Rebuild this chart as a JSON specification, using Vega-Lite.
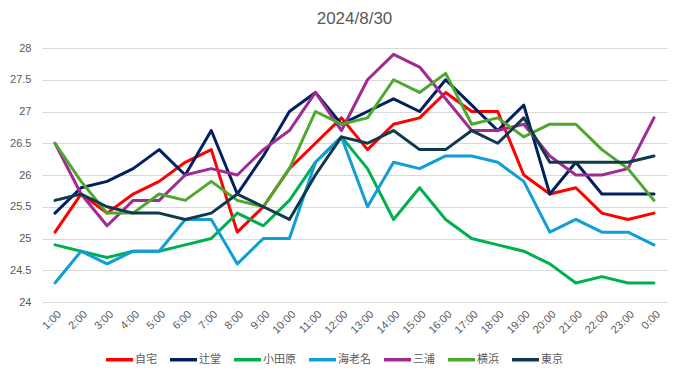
{
  "$schema": "https://vega.github.io/schema/vega-lite/v6.json",
  "width": 625,
  "height": 254,
  "autosize": {"type": "none"},
  "padding": {"left": 42, "top": 48, "right": 14, "bottom": 76},
  "background": "#ffffff",
  "title": {"text": "2024/8/30", "fontSize": 17, "fontWeight": "normal", "color": "#595959", "font": "Liberation Sans", "anchor": "middle", "offset": 14},
  "datasets": {
    "temps": [
      {"t":"1:00","s":"自宅","v":25.1},{"t":"2:00","s":"自宅","v":25.7},{"t":"3:00","s":"自宅","v":25.4},{"t":"4:00","s":"自宅","v":25.7},{"t":"5:00","s":"自宅","v":25.9},{"t":"6:00","s":"自宅","v":26.2},{"t":"7:00","s":"自宅","v":26.4},{"t":"8:00","s":"自宅","v":25.1},{"t":"9:00","s":"自宅","v":25.5},{"t":"10:00","s":"自宅","v":26.1},{"t":"11:00","s":"自宅","v":26.5},{"t":"12:00","s":"自宅","v":26.9},{"t":"13:00","s":"自宅","v":26.4},{"t":"14:00","s":"自宅","v":26.8},{"t":"15:00","s":"自宅","v":26.9},{"t":"16:00","s":"自宅","v":27.3},{"t":"17:00","s":"自宅","v":27.0},{"t":"18:00","s":"自宅","v":27.0},{"t":"19:00","s":"自宅","v":26.0},{"t":"20:00","s":"自宅","v":25.7},{"t":"21:00","s":"自宅","v":25.8},{"t":"22:00","s":"自宅","v":25.4},{"t":"23:00","s":"自宅","v":25.3},{"t":"0:00","s":"自宅","v":25.4},
      {"t":"1:00","s":"辻堂","v":25.4},{"t":"2:00","s":"辻堂","v":25.8},{"t":"3:00","s":"辻堂","v":25.9},{"t":"4:00","s":"辻堂","v":26.1},{"t":"5:00","s":"辻堂","v":26.4},{"t":"6:00","s":"辻堂","v":26.0},{"t":"7:00","s":"辻堂","v":26.7},{"t":"8:00","s":"辻堂","v":25.7},{"t":"9:00","s":"辻堂","v":26.3},{"t":"10:00","s":"辻堂","v":27.0},{"t":"11:00","s":"辻堂","v":27.3},{"t":"12:00","s":"辻堂","v":26.8},{"t":"13:00","s":"辻堂","v":27.0},{"t":"14:00","s":"辻堂","v":27.2},{"t":"15:00","s":"辻堂","v":27.0},{"t":"16:00","s":"辻堂","v":27.5},{"t":"17:00","s":"辻堂","v":27.1},{"t":"18:00","s":"辻堂","v":26.7},{"t":"19:00","s":"辻堂","v":27.1},{"t":"20:00","s":"辻堂","v":25.7},{"t":"21:00","s":"辻堂","v":26.2},{"t":"22:00","s":"辻堂","v":25.7},{"t":"23:00","s":"辻堂","v":25.7},{"t":"0:00","s":"辻堂","v":25.7},
      {"t":"1:00","s":"小田原","v":24.9},{"t":"2:00","s":"小田原","v":24.8},{"t":"3:00","s":"小田原","v":24.7},{"t":"4:00","s":"小田原","v":24.8},{"t":"5:00","s":"小田原","v":24.8},{"t":"6:00","s":"小田原","v":24.9},{"t":"7:00","s":"小田原","v":25.0},{"t":"8:00","s":"小田原","v":25.4},{"t":"9:00","s":"小田原","v":25.2},{"t":"10:00","s":"小田原","v":25.6},{"t":"11:00","s":"小田原","v":26.2},{"t":"12:00","s":"小田原","v":26.6},{"t":"13:00","s":"小田原","v":26.1},{"t":"14:00","s":"小田原","v":25.3},{"t":"15:00","s":"小田原","v":25.8},{"t":"16:00","s":"小田原","v":25.3},{"t":"17:00","s":"小田原","v":25.0},{"t":"18:00","s":"小田原","v":24.9},{"t":"19:00","s":"小田原","v":24.8},{"t":"20:00","s":"小田原","v":24.6},{"t":"21:00","s":"小田原","v":24.3},{"t":"22:00","s":"小田原","v":24.4},{"t":"23:00","s":"小田原","v":24.3},{"t":"0:00","s":"小田原","v":24.3},
      {"t":"1:00","s":"海老名","v":24.3},{"t":"2:00","s":"海老名","v":24.8},{"t":"3:00","s":"海老名","v":24.6},{"t":"4:00","s":"海老名","v":24.8},{"t":"5:00","s":"海老名","v":24.8},{"t":"6:00","s":"海老名","v":25.3},{"t":"7:00","s":"海老名","v":25.3},{"t":"8:00","s":"海老名","v":24.6},{"t":"9:00","s":"海老名","v":25.0},{"t":"10:00","s":"海老名","v":25.0},{"t":"11:00","s":"海老名","v":26.2},{"t":"12:00","s":"海老名","v":26.6},{"t":"13:00","s":"海老名","v":25.5},{"t":"14:00","s":"海老名","v":26.2},{"t":"15:00","s":"海老名","v":26.1},{"t":"16:00","s":"海老名","v":26.3},{"t":"17:00","s":"海老名","v":26.3},{"t":"18:00","s":"海老名","v":26.2},{"t":"19:00","s":"海老名","v":25.9},{"t":"20:00","s":"海老名","v":25.1},{"t":"21:00","s":"海老名","v":25.3},{"t":"22:00","s":"海老名","v":25.1},{"t":"23:00","s":"海老名","v":25.1},{"t":"0:00","s":"海老名","v":24.9},
      {"t":"1:00","s":"三浦","v":26.5},{"t":"2:00","s":"三浦","v":25.7},{"t":"3:00","s":"三浦","v":25.2},{"t":"4:00","s":"三浦","v":25.6},{"t":"5:00","s":"三浦","v":25.6},{"t":"6:00","s":"三浦","v":26.0},{"t":"7:00","s":"三浦","v":26.1},{"t":"8:00","s":"三浦","v":26.0},{"t":"9:00","s":"三浦","v":26.4},{"t":"10:00","s":"三浦","v":26.7},{"t":"11:00","s":"三浦","v":27.3},{"t":"12:00","s":"三浦","v":26.7},{"t":"13:00","s":"三浦","v":27.5},{"t":"14:00","s":"三浦","v":27.9},{"t":"15:00","s":"三浦","v":27.7},{"t":"16:00","s":"三浦","v":27.2},{"t":"17:00","s":"三浦","v":26.7},{"t":"18:00","s":"三浦","v":26.7},{"t":"19:00","s":"三浦","v":26.8},{"t":"20:00","s":"三浦","v":26.3},{"t":"21:00","s":"三浦","v":26.0},{"t":"22:00","s":"三浦","v":26.0},{"t":"23:00","s":"三浦","v":26.1},{"t":"0:00","s":"三浦","v":26.9},
      {"t":"1:00","s":"横浜","v":26.5},{"t":"2:00","s":"横浜","v":25.9},{"t":"3:00","s":"横浜","v":25.4},{"t":"4:00","s":"横浜","v":25.4},{"t":"5:00","s":"横浜","v":25.7},{"t":"6:00","s":"横浜","v":25.6},{"t":"7:00","s":"横浜","v":25.9},{"t":"8:00","s":"横浜","v":25.6},{"t":"9:00","s":"横浜","v":25.5},{"t":"10:00","s":"横浜","v":26.1},{"t":"11:00","s":"横浜","v":27.0},{"t":"12:00","s":"横浜","v":26.8},{"t":"13:00","s":"横浜","v":26.9},{"t":"14:00","s":"横浜","v":27.5},{"t":"15:00","s":"横浜","v":27.3},{"t":"16:00","s":"横浜","v":27.6},{"t":"17:00","s":"横浜","v":26.8},{"t":"18:00","s":"横浜","v":26.9},{"t":"19:00","s":"横浜","v":26.6},{"t":"20:00","s":"横浜","v":26.8},{"t":"21:00","s":"横浜","v":26.8},{"t":"22:00","s":"横浜","v":26.4},{"t":"23:00","s":"横浜","v":26.1},{"t":"0:00","s":"横浜","v":25.6},
      {"t":"1:00","s":"東京","v":25.6},{"t":"2:00","s":"東京","v":25.7},{"t":"3:00","s":"東京","v":25.5},{"t":"4:00","s":"東京","v":25.4},{"t":"5:00","s":"東京","v":25.4},{"t":"6:00","s":"東京","v":25.3},{"t":"7:00","s":"東京","v":25.4},{"t":"8:00","s":"東京","v":25.7},{"t":"9:00","s":"東京","v":25.5},{"t":"10:00","s":"東京","v":25.3},{"t":"11:00","s":"東京","v":26.0},{"t":"12:00","s":"東京","v":26.6},{"t":"13:00","s":"東京","v":26.5},{"t":"14:00","s":"東京","v":26.7},{"t":"15:00","s":"東京","v":26.4},{"t":"16:00","s":"東京","v":26.4},{"t":"17:00","s":"東京","v":26.7},{"t":"18:00","s":"東京","v":26.5},{"t":"19:00","s":"東京","v":26.9},{"t":"20:00","s":"東京","v":26.2},{"t":"21:00","s":"東京","v":26.2},{"t":"22:00","s":"東京","v":26.2},{"t":"23:00","s":"東京","v":26.2},{"t":"0:00","s":"東京","v":26.3}
    ]
  },
  "data": {"name": "temps"},
  "mark": {"type": "line", "strokeWidth": 3, "strokeJoin": "round", "strokeCap": "round"},
  "encoding": {
    "x": {
      "field": "t", "type": "ordinal",
      "sort": ["1:00","2:00","3:00","4:00","5:00","6:00","7:00","8:00","9:00","10:00","11:00","12:00","13:00","14:00","15:00","16:00","17:00","18:00","19:00","20:00","21:00","22:00","23:00","0:00"],
      "scale": {"type": "point", "padding": 0.5},
      "axis": {"title": null, "labelAngle": -45, "domain": false, "ticks": false, "grid": false, "labelColor": "#595959", "labelFontSize": 11, "labelFont": "Liberation Sans", "labelPadding": 6}
    },
    "y": {
      "field": "v", "type": "quantitative",
      "scale": {"domain": [24, 28], "nice": false, "zero": false},
      "axis": {"title": null, "values": [24, 24.5, 25, 25.5, 26, 26.5, 27, 27.5, 28], "format": "~g", "domain": false, "ticks": false, "gridColor": "#d9d9d9", "gridWidth": 1, "labelColor": "#595959", "labelFontSize": 11, "labelFont": "Liberation Sans", "labelPadding": 11}
    },
    "color": {
      "field": "s", "type": "nominal",
      "scale": {
        "domain": ["自宅","辻堂","小田原","海老名","三浦","横浜","東京"],
        "range": ["#ff0000","#002060","#00b050","#0f9ed5","#a02b93","#4ea72e","#0e3a4c"]
      },
      "legend": {
        "title": null, "orient": "none", "direction": "horizontal", "legendX": 62, "legendY": 296,
        "symbolType": "stroke", "symbolSize": 729, "symbolStrokeWidth": 3.5,
        "labelFont": "Noto Sans CJK JP", "labelFontSize": 11, "labelColor": "#595959",
        "labelOffset": 0, "columnPadding": 6, "padding": 0
      }
    }
  },
  "config": {"view": {"stroke": null}}
}
